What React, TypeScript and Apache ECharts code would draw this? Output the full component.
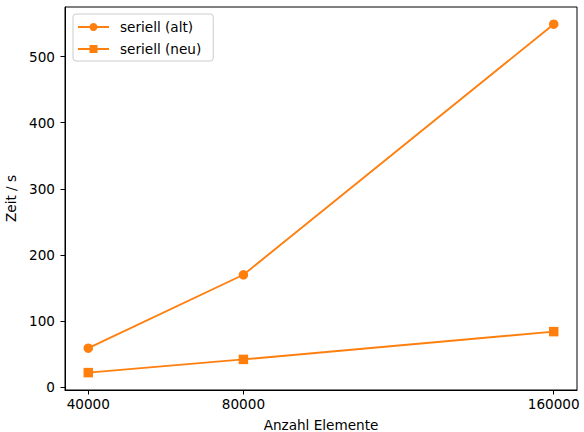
import React, { useEffect, useRef } from "react";
import * as echarts from "echarts";

const elements = [40000, 80000, 160000];
const serialOld = [59, 170, 549];
const serialNew = [22, 42, 84];
const xTicks = [40000, 80000, 160000];
const yTicks = [0, 100, 200, 300, 400, 500];

const ORANGE = "#ff7f0e";
const FONT = "DejaVu Sans";
const FS = 13.6;

export default function App() {
  const ref = useRef<HTMLDivElement>(null);
  useEffect(() => {
    if (!ref.current) return;
    const chart = echarts.init(ref.current, null, { renderer: "svg" });
    chart.setOption({
      animation: false,
      textStyle: { fontFamily: FONT },
      grid: {
        left: 65,
        right: 7,
        top: 7,
        bottom: 42,
        show: true,
        borderColor: "#000",
        borderWidth: 1,
        outerBoundsMode: "none",
        containLabel: false,
      },
      legend: {
        left: 73,
        top: 14,
        orient: "vertical",
        itemWidth: 31,
        itemHeight: 10,
        itemGap: 8,
        padding: [6, 12, 5, 4],
        borderColor: "#cccccc",
        borderWidth: 1,
        borderRadius: 3,
        backgroundColor: "rgba(255,255,255,0.8)",
        textStyle: { fontSize: FS, color: "#000", fontFamily: FONT, padding: [0, 0, 0, 6] },
        data: ["seriell (alt)", "seriell (neu)"],
      },
      xAxis: {
        type: "value",
        min: 34000,
        max: 166000,
        name: "Anzahl Elemente",
        nameLocation: "middle",
        nameGap: 28,
        nameTextStyle: { fontSize: FS, color: "#000", fontFamily: FONT },
        splitLine: { show: false },
        axisLine: { show: true, onZero: false, lineStyle: { color: "#000", width: 1 } },
        axisTick: { show: true, length: 4.5, lineStyle: { color: "#000" }, customValues: xTicks },
        axisLabel: {
          fontSize: FS,
          color: "#000",
          margin: 7,
          fontFamily: FONT,
          customValues: xTicks,
          formatter: (v: number) => String(v),
        },
      },
      yAxis: {
        type: "value",
        min: -4.3,
        max: 575,
        name: "Zeit / s",
        nameLocation: "middle",
        nameGap: 43,
        nameTextStyle: { fontSize: FS, color: "#000", fontFamily: FONT },
        splitLine: { show: false },
        axisLine: { show: true, onZero: false, lineStyle: { color: "#000", width: 1 } },
        axisTick: { show: true, length: 4.5, lineStyle: { color: "#000" }, customValues: yTicks },
        axisLabel: {
          fontSize: FS,
          color: "#000",
          margin: 10,
          fontFamily: FONT,
          customValues: yTicks,
          formatter: (v: number) => String(v),
        },
      },
      series: [
        {
          name: "seriell (alt)",
          type: "line",
          data: elements.map((x, i) => [x, serialOld[i]]),
          symbol: "circle",
          symbolSize: 9.5,
          lineStyle: { color: ORANGE, width: 1.9 },
          itemStyle: { color: ORANGE },
        },
        {
          name: "seriell (neu)",
          type: "line",
          data: elements.map((x, i) => [x, serialNew[i]]),
          symbol: "rect",
          symbolSize: 9.5,
          lineStyle: { color: ORANGE, width: 1.9 },
          itemStyle: { color: ORANGE },
        },
      ],
    });
    return () => chart.dispose();
  }, []);
  return <div ref={ref} style={{ width: 584, height: 432, position: "absolute", left: 0, top: 0 }} />;
}
